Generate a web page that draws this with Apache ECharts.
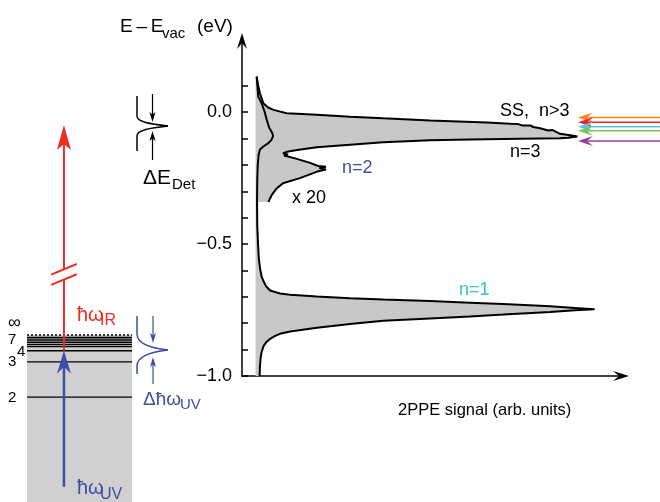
<!DOCTYPE html>
<html><head><meta charset="utf-8">
<script src="https://cdn.jsdelivr.net/npm/echarts@6/dist/echarts.min.js"></script>
<style>html,body{margin:0;padding:0;background:#fff}#c{width:660px;height:502px}</style>
</head><body><div id="c"></div>
<script>
// ---------- DATA ----------
// 2PPE spectrum, raw (x1) : [signal (arb.), E - Evac (eV)]
const x1Signal = [0.0035,0.006,0.008,0.018,0.027,0.034,0.041,0.049,0.052,0.047,0.037,0.023,0.013,0.009,0.0065,0.005,0.0044,0.005,0.0074,0.010,0.014,0.018,0.024,0.031,0.043,0.072,0.102,0.181,0.279,0.377,0.515,0.633,0.731,0.870,0.943,1.001,0.943,0.870,0.731,0.633,0.515,0.377,0.279,0.181,0.102,0.072,0.058,0.043,0.033,0.024,0.018,0.015,0.013,0.012];
const x1Energy = [0.135,0.092,0.059,0.034,0.001,-0.033,-0.061,-0.078,-0.090,-0.105,-0.118,-0.130,-0.141,-0.162,-0.200,-0.257,-0.332,-0.427,-0.503,-0.560,-0.598,-0.623,-0.642,-0.660,-0.676,-0.687,-0.692,-0.699,-0.705,-0.710,-0.716,-0.722,-0.727,-0.736,-0.742,-0.747,-0.751,-0.757,-0.767,-0.774,-0.782,-0.791,-0.803,-0.817,-0.831,-0.840,-0.848,-0.859,-0.870,-0.886,-0.908,-0.931,-0.964,-1.000];
// magnified (x 20) part of the spectrum
const x20Signal = [0.0035,0.0074,0.013,0.023,0.037,0.053,0.092,0.181,0.279,0.377,0.515,0.683,0.752,0.775,0.787,0.811,0.820,0.840,0.864,0.876,0.899,0.929,0.950,0.923,0.899,0.781,0.633,0.515,0.377,0.279,0.181,0.123,0.093,0.081,0.096,0.084,0.117,0.161,0.185,0.208,0.188,0.208,0.182,0.131,0.081,0.063,0.048,0.038];
const x20Energy = [0.135,0.103,0.072,0.034,0.018,0.009,-0.004,-0.010,-0.017,-0.023,-0.031,-0.039,-0.044,-0.045,-0.050,-0.050,-0.056,-0.061,-0.069,-0.067,-0.082,-0.087,-0.092,-0.097,-0.099,-0.101,-0.103,-0.106,-0.114,-0.123,-0.133,-0.143,-0.150,-0.156,-0.160,-0.164,-0.175,-0.192,-0.204,-0.207,-0.211,-0.217,-0.225,-0.250,-0.269,-0.288,-0.313,-0.340];
// colored arrows marking SS and n>3 states
const stateArrowEnergies = [-0.020,-0.038,-0.055,-0.070,-0.109];
const stateArrowTipSignal = 0.952;
// y axis ticks / labels
const yTickValues = [-1.0,-0.9,-0.8,-0.7,-0.6,-0.5,-0.4,-0.3,-0.2,-0.1,0.0,0.1];
const yLabelValues = [-1.0,-0.5,0.0];
// schematic level diagram (eV, relative to vacuum level)
const levelEnergies = [-0.213,-0.092,-0.054,-0.040,-0.033,-0.026,-0.020,-0.014,-0.008];
const crystalBottomE = -0.572;
const uvStartE = -0.52;
const irTipE = 0.719;
const irBreakE = [0.190,0.225];

// ---------- STYLE ----------
const FONT = '"Liberation Sans", Arial, Helvetica, sans-serif';
const stateArrowColors = ['#f5821f','#e8262b','#5cc6e6','#7ec45a','#9b3c9e'];
const RED = '#ee2b25', BLUE = '#3f4ea2', CYAN = '#35c4c4', GRAY = '#c8c8c8';
const ARROW = 'path://M5,0 L10,16 L5,10 L0,16 Z';
const HBAR = '\u0127';

const zip = (a, b) => a.map((v, i) => [v, b[i]]);
const x1Curve = zip(x1Signal, x1Energy);
const x20Curve = zip(x20Signal, x20Energy);
const cutE = x20Energy[x20Energy.length - 1];
const fillPts = [[0, x20Energy[0]]]
  .concat(x20Curve)
  .concat([[0.0044, cutE]])
  .concat(x1Curve.filter(p => p[1] < cutE))
  .concat([[0, -1.0]]);

function txt(text, x, y, size, color, extra) {
  return {type:'text', x:x, y:y, silent:true, z:20,
    style:Object.assign({text:text, font:size+'px '+FONT, fill:color||'#000',
      textAlign:'left', textVerticalAlign:'middle'}, extra||{})};
}
function arrowHead(tx, ty, dir, len, half, notch, color) {
  const dx = dir[0], dy = dir[1], px = -dy, py = dx;
  return {type:'polygon', silent:true, shape:{points:[[tx,ty],[tx+dx*len+px*half, ty+dy*len+py*half],[tx+dx*notch, ty+dy*notch],[tx+dx*len-px*half, ty+dy*len-py*half]]}, style:{fill:color}};
}
function seg(x1, y1, x2, y2, color, w) {
  return {type:'line', silent:true, shape:{x1:x1, y1:y1, x2:x2, y2:y2}, style:{stroke:color, lineWidth:w, fill:null}};
}
function bez(x1, y1, c1x, c1y, c2x, c2y, x2, y2, color, w) {
  return {type:'bezierCurve', silent:true, shape:{x1:x1, y1:y1, cpx1:c1x, cpy1:c1y, cpx2:c2x, cpy2:c2y, x2:x2, y2:y2}, style:{stroke:color, lineWidth:w, fill:null}};
}
function glyph(x0, top, y1, peakX, peakY, y2, bottom, spread, color) {
  return [
    seg(x0, top, x0, y1, color, 1.5),
    bez(x0, y1, x0, y1 + spread, peakX - 18, peakY - 2, peakX, peakY, color, 1.5),
    bez(peakX, peakY, peakX - 18, peakY + 2, x0, y2 - spread, x0, y2, color, 1.5),
    seg(x0, y2, x0, bottom, color, 1.5)
  ];
}

const chart = echarts.init(document.getElementById('c'), null, {renderer:'canvas'});
const option = {
  animation:false,
  backgroundColor:'#fff',
  grid:[
    {left:242, right:39, top:41, bottom:126},
    {left:27, right:528, top:116, bottom:0}
  ],
  xAxis:[
    {type:'value', gridIndex:0, min:-0.04, max:1.079,
      axisLine:{show:true, onZero:false, symbol:['none', ARROW], symbolSize:[10,16], lineStyle:{color:'#000', width:1.5}},
      axisTick:{show:false}, axisLabel:{show:false}, splitLine:{show:false}},
    {type:'value', gridIndex:1, min:0, max:1, show:false}
  ],
  yAxis:[
    {type:'value', gridIndex:0, min:-1.0, max:0.27,
      axisLine:{show:true, onZero:false, symbol:['none', ARROW], symbolSize:[10,16], lineStyle:{color:'#000', width:1.5}},
      axisTick:{show:true, inside:true, length:6, customValues:yTickValues, lineStyle:{color:'#000', width:1.5}},
      axisLabel:{customValues:yLabelValues, margin:10, color:'#000', fontSize:18, fontFamily:FONT,
        formatter:v => (v < -1e-9 ? '\u2212' : '') + Math.abs(v).toFixed(1)},
      splitLine:{show:false}},
    {type:'value', gridIndex:1, min:crystalBottomE, max:0.75, show:false}
  ],
  series:[
    {type:'custom', xAxisIndex:0, yAxisIndex:0, data:[[0,0]], z:1, silent:true,
      renderItem:(params, api) => ({type:'polygon', shape:{points:fillPts.map(p => api.coord(p))}, style:{fill:GRAY}})},
    {type:'line', xAxisIndex:0, yAxisIndex:0, data:x20Curve, symbol:'none', z:3, silent:true,
      lineStyle:{color:'#000', width:2}},
    {type:'line', xAxisIndex:0, yAxisIndex:0, data:x1Curve, symbol:'none', z:3, silent:true,
      lineStyle:{color:'#000', width:2}},
    {type:'custom', xAxisIndex:0, yAxisIndex:0, data:[[0,0]], z:4, silent:true,
      renderItem:(params, api) => {
        const ch = [];
        const W = api.getWidth();
        stateArrowEnergies.forEach((e, i) => {
          const t = api.coord([stateArrowTipSignal, e]);
          ch.push({type:'line', shape:{x1:t[0]+8, y1:t[1], x2:W, y2:t[1]}, style:{stroke:stateArrowColors[i], lineWidth:1.5}});
          ch.push(arrowHead(t[0], t[1], [1,0], 15, 5, 9, stateArrowColors[i]));
        });
        return {type:'group', children:ch};
      }},
    {type:'custom', xAxisIndex:1, yAxisIndex:1, data:[[0,0]], z:2, silent:true,
      renderItem:(params, api) => {
        const ch = [];
        const tl = api.coord([0, 0]), br = api.coord([1, crystalBottomE]);
        ch.push({type:'rect', shape:{x:tl[0], y:tl[1], width:br[0]-tl[0], height:br[1]-tl[1]+2}, style:{fill:'#d0d0d0'}});
        ch.push({type:'line', shape:{x1:tl[0], y1:tl[1], x2:br[0], y2:tl[1]}, style:{stroke:'#000', lineWidth:1.5, lineDash:[2,2]}});
        levelEnergies.forEach(e => {
          const y = api.coord([0, e])[1];
          ch.push({type:'line', shape:{x1:tl[0], y1:y, x2:br[0], y2:y}, style:{stroke:'#000', lineWidth:1.3}});
        });
        const ax = 0.352;
        const b0 = api.coord([ax, uvStartE]), b1 = api.coord([ax, levelEnergies[2]]);
        ch.push({type:'line', shape:{x1:b0[0], y1:b0[1], x2:b1[0], y2:b1[1]+12}, style:{stroke:BLUE, lineWidth:2.5}});
        ch.push(arrowHead(b1[0], b1[1], [0,1], 23, 7, 16, BLUE));
        const r0 = api.coord([ax, irBreakE[0]]), r1 = api.coord([ax, irBreakE[1]]), rt = api.coord([ax, irTipE]);
        ch.push({type:'line', shape:{x1:b1[0], y1:b1[1], x2:r0[0], y2:r0[1]}, style:{stroke:RED, lineWidth:2}});
        ch.push({type:'line', shape:{x1:r1[0], y1:r1[1], x2:rt[0], y2:rt[1]+18}, style:{stroke:RED, lineWidth:2}});
        ch.push(arrowHead(rt[0], rt[1], [0,1], 25, 7, 19, RED));
        [r0, r1].forEach(p => ch.push({type:'line', shape:{x1:p[0]-12.8, y1:p[1]+5.3, x2:p[0]+12.8, y2:p[1]-5.3}, style:{stroke:RED, lineWidth:2}}));
        return {type:'group', children:ch};
      }}
  ],
  graphic:[].concat(
    [
    // axis titles
    txt('E\u2009\u2013\u2009E', 120, 27, 19),
    txt('vac', 162, 34, 15),
    txt('(eV)', 197, 27, 19),
    txt('2PPE signal (arb. units)', 398, 410, 16.5),
    // peak labels
    txt('SS,  n>3', 500, 111.5, 18),
    txt('n=3', 510, 152, 18),
    txt('n=2', 342, 168.5, 18, BLUE),
    txt('x 20', 292, 198.5, 18),
    txt('n=1', 459, 290, 18, CYAN)
    ],
    // detector resolution glyph
    glyph(137, 96, 116, 168, 126, 136, 151, 6, '#000'),
    [
    seg(152.5, 94, 152.5, 116, '#000', 1.2),
    arrowHead(152.5, 122, [0,-1], 10, 3, 7.5, '#000'),
    seg(152.5, 138, 152.5, 160, '#000', 1.2),
    arrowHead(152.5, 131, [0,1], 10, 3, 7.5, '#000'),
    txt('\u0394E', 143, 178.5, 21),
    txt('Det', 172, 185, 15)
    ],
    // UV bandwidth glyph
    glyph(137, 316, 334, 168, 350, 366, 374, 9, BLUE),
    [
    seg(153, 316, 153, 337, BLUE, 1.2),
    arrowHead(153, 343, [0,-1], 10, 3, 7.5, BLUE),
    seg(153, 363, 153, 384, BLUE, 1.2),
    arrowHead(153, 357, [0,1], 10, 3, 7.5, BLUE),
    txt('\u0394' + HBAR + '\u03C9', 143, 400, 19, BLUE),
    txt('UV', 180, 405, 15, BLUE),
    // photon labels
    txt(HBAR + '\u03C9', 77, 315, 20, RED),
    txt('IR', 100, 321, 16, RED),
    txt(HBAR + '\u03C9', 77, 488, 20, BLUE),
    txt('UV', 100, 495, 16, BLUE),
    // level labels
    txt('\u221E', 8, 323, 18),
    txt('7', 8, 340, 15),
    txt('4', 17, 352, 15),
    txt('3', 8, 362, 15),
    txt('2', 8, 397.5, 15)
    ]
  )
};
chart.setOption(option);
</script>
</body></html>
